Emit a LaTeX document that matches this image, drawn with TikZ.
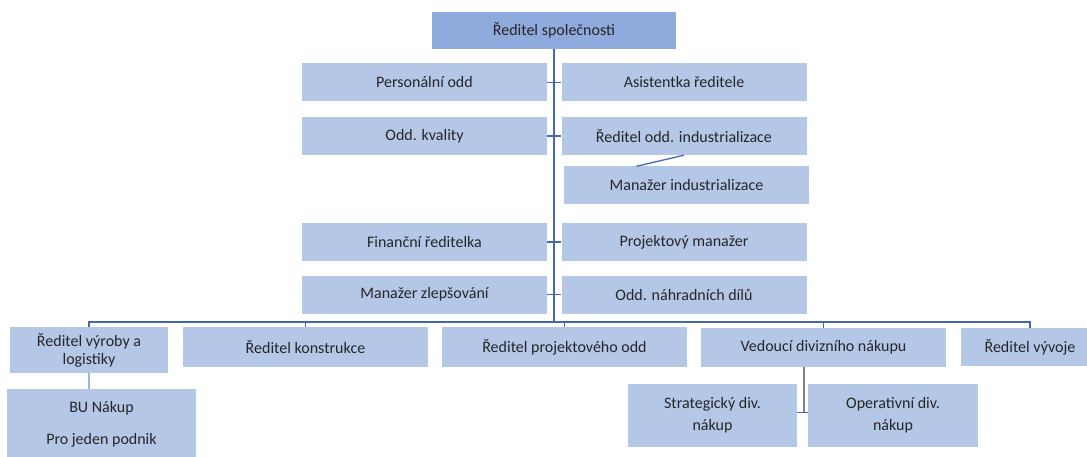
\documentclass[tikz,border=0pt]{standalone}
\usepackage{fontspec}
\setmainfont{Carlito}
\usepackage{tikz}
\usetikzlibrary{positioning}
\usetikzlibrary{calc}
\definecolor{boxfill}{HTML}{B4C7E7}
\definecolor{headfill}{HTML}{8FAADC}
\definecolor{linkblue}{HTML}{4468B0}
\definecolor{textgray}{HTML}{262626}
\tikzset{
box/.style={
	rectangle,
	text centered,
	align=center,
	fill=boxfill,
	text=textgray,
	inner sep=2pt
},
staff/.style={
	box,
	minimum width=245pt,
	minimum height=38pt
},
link/.style={
	draw=linkblue,
	line width=1.3pt
},
sublink/.style={
	draw=boxfill!80!linkblue,
	line width=1.2pt
}
}

\begin{document}
\begin{tikzpicture}[x=1pt, y=-1pt, font=\fontsize{16}{18}\selectfont]
\useasboundingbox (0,0) rectangle (1087,457);
% ===== Head =====
\node (head)    [box, fill=headfill, minimum width=244pt, minimum height=37pt] at (554, 30.5) {Ředitel společnosti};
% ===== Staff, left column =====
\node (hr)      [staff] at (424.5, 82.5)  {Personální odd};
\node (quality) [staff] at (424.5, 136)   {Odd. kvality};
\node (finance) [staff] at (424.5, 242)   {Finanční ředitelka};
\node (improve) [staff] at (424.5, 294.5) {Manažer zlepšování};
% ===== Staff, right column =====
\node (assist)  [staff] at (684, 82.5)    {Asistentka ředitele};
\node (indu)    [staff] at (684, 136)     {Ředitel odd. industrializace};
\node (indumgr) [staff] at (686.5, 185.5) {Manažer industrializace};
\node (projmgr) [staff] at (684, 242)     {Projektový manažer};
\node (parts)   [staff] at (684, 294.5)   {Odd. náhradních dílů};
% ===== Line directors =====
\node (prod)    [box, minimum width=158pt, minimum height=46pt] at (89, 350)     {Ředitel výroby a\\logistiky};
\node (constr)  [staff, minimum height=40pt] at (305.5, 347) {Ředitel konstrukce};
\node (project) [staff, minimum height=40pt] at (564.5, 347) {Ředitel projektového odd};
\node (purch)   [staff, minimum height=39pt] at (823.5, 347.5) {Vedoucí divizního nákupu};
\node (devel)   [box, minimum width=138pt, minimum height=38pt] at (1030, 347) {Ředitel vývoje};
% ===== Below directors =====
\node (bu)      [box, minimum width=189pt, minimum height=70pt] at (101.5, 424) {BU Nákup\\[14pt]Pro jeden podnik};
\node (strat)   [box, minimum width=169pt, minimum height=63pt] at (712.5, 415.5) {Strategický div.\\[4pt]nákup};
\node (oper)    [box, minimum width=170pt, minimum height=63pt] at (893, 415.5) {Operativní div.\\[4pt]nákup};

\coordinate (bus)  at (554, 322);
\coordinate (divj) at (804, 412);

% main spine and bus
\draw [link, line width=1.8pt] (head.south) -- (bus);
\draw [link] (prod.north) |- (bus) -| (devel.north);
\foreach \n in {constr, project, purch}
	\draw [link] (\n.north) -- (\n.north |- bus);
% staff ticks across the spine
\foreach \l/\r in {hr/assist, quality/indu, finance/projmgr, improve/parts}
	\draw [link] (\l.east) -- (\r.west);
\draw [link] (indu.south) -- ([xshift=-50pt]indumgr.north);

% lower branches
\draw [sublink] (prod.south) -- (prod.south |- bu.north);
\draw [draw=gray, line width=1.2pt] (divj |- purch.south) -- (divj);
\draw [link, line width=0.8pt] (strat.east |- divj) -- (oper.west |- divj);

\end{tikzpicture}
\end{document}
